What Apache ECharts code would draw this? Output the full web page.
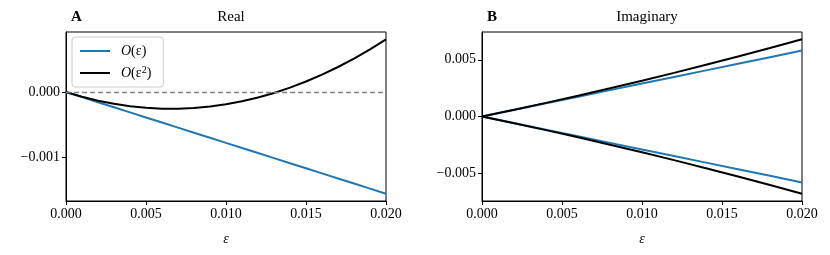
<!DOCTYPE html>
<html><head><meta charset="utf-8">
<script src="https://cdn.jsdelivr.net/npm/echarts@6/dist/echarts.min.js"></script>
<style>html,body{margin:0;padding:0;background:#fff}#c{width:830px;height:255px}</style>
</head><body><div id="c"></div>
<script>
const eps = [0,0.001,0.002,0.003,0.004,0.005,0.006,0.007,0.008,0.009,0.010,0.011,0.012,0.013,0.014,0.015,0.016,0.017,0.018,0.019,0.020];
const realFirst = [0,-0.0000779,-0.0001558,-0.0002337,-0.0003116,-0.0003895,-0.0004674,-0.0005453,-0.0006232,-0.0007011,-0.000779,-0.0008569,-0.0009348,-0.0010127,-0.0010906,-0.0011685,-0.0012464,-0.0013243,-0.0014022,-0.0014801,-0.001558];
const realSecond = [0,-0.0000720,-0.0001322,-0.0001805,-0.0002170,-0.0002418,-0.0002546,-0.0002557,-0.0002450,-0.0002224,-0.000188,-0.0001418,-0.0000838,-0.0000139,0.0000678,0.0001613,0.0002666,0.0003837,0.0005126,0.0006534,0.000806];
const epsImag = [0,0.002,0.004,0.006,0.008,0.010,0.012,0.014,0.016,0.018,0.020];
const imagFirstUp = [0,0.000581,0.001162,0.001743,0.002324,0.002905,0.003486,0.004067,0.004648,0.005229,0.00581];
const imagFirstLo = [0,-0.000581,-0.001162,-0.001743,-0.002324,-0.002905,-0.003486,-0.004067,-0.004648,-0.005229,-0.00581];
const imagSecondUp = [0,0.000591,0.001202,0.001833,0.002484,0.003155,0.003846,0.004557,0.005288,0.006039,0.00681];
const imagSecondLo = [0,-0.000591,-0.001202,-0.001833,-0.002484,-0.003155,-0.003846,-0.004557,-0.005288,-0.006039,-0.00681];
const xTicks = [0,0.005,0.010,0.015,0.020];
const realTicks = [-0.001,0];
const imagTicks = [-0.005,0,0.005];
const seriesNames = ['O(ε)','O(ε²)'];

const zip = (xs, ys) => xs.map((x,i)=>[x, ys[i]]);
const fmt = v => (v < 0 ? '\u2212' : '') + Math.abs(v).toFixed(3);
const FONT = 'Liberation Serif';
const FS = 14;
const blue = '#1f77b4', black = '#000000';

const xAxisBase = (gi) => ({
  type:'value', gridIndex: gi, min:0, max:0.02,
  axisLine:{show:true, onZero:false, lineStyle:{color:'#000', width:1}},
  axisTick:{show:true, inside:false, length:4, lineStyle:{color:'#000'}, customValues: xTicks},
  axisLabel:{color:'#000', fontFamily:FONT, fontSize:FS, margin:6, formatter: fmt, customValues: xTicks},
  splitLine:{show:false},
  name:'ε', nameLocation:'middle', nameGap:31,
  nameTextStyle:{fontFamily:FONT, fontStyle:'italic', fontSize:FS, color:'#000'}
});
const yAxisBase = (gi, min, max, ticks) => ({
  type:'value', gridIndex: gi, min, max,
  axisLine:{show:true, onZero:false, lineStyle:{color:'#000', width:1}},
  axisTick:{show:true, inside:false, length:4, lineStyle:{color:'#000'}, customValues: ticks},
  axisLabel:{color:'#000', fontFamily:FONT, fontSize:FS, margin:6, formatter: fmt, customValues: ticks},
  splitLine:{show:false}
});
const lineSeries = (name, xi, yi, data, color) => ({
  name, type:'line', xAxisIndex:xi, yAxisIndex:yi, data, showSymbol:false, symbol:'none',
  lineStyle:{color, width:2}, itemStyle:{color}, animation:false, z:3
});

const chart = echarts.init(document.getElementById('c'), null, {renderer:'canvas'});
chart.setOption({
  animation:false,
  backgroundColor:'#fff',
  title:[
    {text:'A', left:66, top:5, textStyle:{fontFamily:FONT, fontWeight:'bold', fontSize:15, color:'#000'}},
    {text:'Real', left:226, top:5, textAlign:'center', textStyle:{fontFamily:FONT, fontWeight:'normal', fontSize:15, color:'#000'}},
    {text:'B', left:482, top:5, textStyle:{fontFamily:FONT, fontWeight:'bold', fontSize:15, color:'#000'}},
    {text:'Imaginary', left:642, top:5, textAlign:'center', textStyle:{fontFamily:FONT, fontWeight:'normal', fontSize:15, color:'#000'}}
  ],
  grid:[
    {left:66, top:32, width:320, height:169, show:true, borderColor:'#000', borderWidth:1, backgroundColor:'transparent'},
    {left:482, top:32, width:320, height:169, show:true, borderColor:'#000', borderWidth:1, backgroundColor:'transparent'}
  ],
  legend:{
    data: seriesNames, left:72, top:37, orient:'vertical', itemGap:6, itemWidth:30, itemHeight:2,
    icon:'rect',
    padding:[6,12,6,8], borderColor:'#cccccc', borderWidth:1, borderRadius:3,
    backgroundColor:'rgba(255,255,255,0.8)',
    formatter: n => n === seriesNames[0] ? '{i|O}{t|(ε)}' : '{i|O}{t|(ε}{s|2}{t|)}',
    textStyle:{fontFamily:FONT, fontSize:FS, color:'#000', padding:[0,0,0,6], lineHeight:16,
      rich:{i:{fontFamily:FONT, fontStyle:'italic', fontSize:FS, lineHeight:16},
            t:{fontFamily:FONT, fontSize:FS, lineHeight:16},
            s:{fontFamily:FONT, fontSize:10, lineHeight:16, verticalAlign:'top', padding:[0,0,4,0]}}}
  },
  xAxis:[xAxisBase(0), xAxisBase(1)],
  yAxis:[yAxisBase(0, -0.00167, 0.00092, realTicks), yAxisBase(1, -0.00745, 0.00745, imagTicks)],
  series:[
    Object.assign(lineSeries(seriesNames[0], 0, 0, zip(eps, realFirst), blue), {
      markLine:{silent:true, symbol:'none', label:{show:false},
        lineStyle:{color:'#808080', type:[5,3], width:1.3}, data:[{yAxis:0}]}
    }),
    lineSeries(seriesNames[1], 0, 0, zip(eps, realSecond), black),
    lineSeries(seriesNames[0], 1, 1, zip(epsImag, imagFirstUp), blue),
    lineSeries(seriesNames[0], 1, 1, zip(epsImag, imagFirstLo), blue),
    lineSeries(seriesNames[1], 1, 1, zip(epsImag, imagSecondUp), black),
    lineSeries(seriesNames[1], 1, 1, zip(epsImag, imagSecondLo), black)
  ]
});
</script></body></html>
